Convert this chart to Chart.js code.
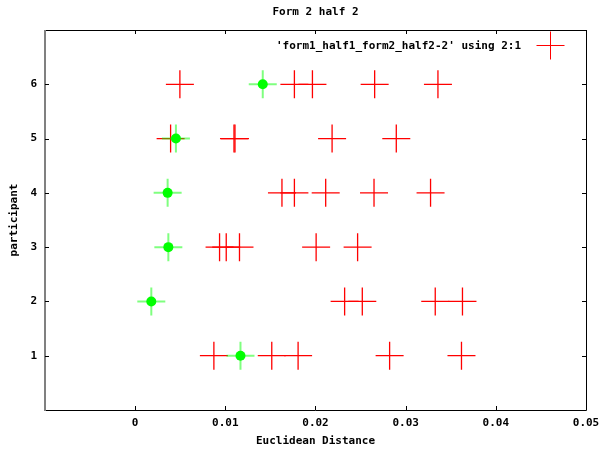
<!DOCTYPE html>
<html><head><meta charset="utf-8">
<script src="https://cdn.jsdelivr.net/npm/chart.js@4.4.0/dist/chart.umd.min.js"></script>
<style>html,body{margin:0;padding:0;background:#fff}#wrap{width:602px;height:450px;position:relative}</style>
</head><body><div id="wrap"><canvas id="c" width="602" height="450"></canvas></div>
<script>
const chartTitle = "Form 2 half 2";
const xTitle = "Euclidean Distance";
const yTitle = "participant";
const seriesLabel = "'form1_half1_form2_half2-2' using 2:1";
const xTickValues = [0, 0.01, 0.02, 0.03, 0.04, 0.05];
const yTickValues = [1, 2, 3, 4, 5, 6];

// red series: participant (y) and distance (x)
const redParticipant = [
  6, 6, 6, 6, 6,
  5, 5, 5, 5, 5,
  4, 4, 4, 4, 4,
  3, 3, 3, 3, 3,
  2, 2, 2, 2,
  1, 1, 1, 1, 1
];
const redDistance = [
  0.00496, 0.01766, 0.01966, 0.02656, 0.03358,
  0.00393, 0.01096, 0.01107, 0.02184, 0.02896,
  0.01628, 0.01766, 0.02113, 0.02649, 0.03276,
  0.00936, 0.01010, 0.01157, 0.02007, 0.02467,
  0.02323, 0.02519, 0.03328, 0.03630,
  0.00873, 0.01515, 0.01807, 0.02822, 0.03619
];
// green series
const greenParticipant = [6, 5, 4, 3, 2, 1];
const greenDistance = [0.01415, 0.00452, 0.00360, 0.00368, 0.00179, 0.01168];

const FONT = "bold 11px 'DejaVu Sans Mono', monospace";
const redPts = redDistance.map((d, i) => ({x: d, y: redParticipant[i]}));
const greenPts = greenDistance.map((d, i) => ({x: d, y: greenParticipant[i]}));

const framePlugin = {
  id: 'frame',
  afterDraw(chart) {
    const ctx = chart.ctx, a = chart.chartArea;
    const xs = chart.scales.x, ys = chart.scales.y;
    ctx.save();
    // border
    ctx.lineWidth = 1;
    ctx.strokeStyle = '#000';
    ctx.beginPath();
    ctx.moveTo(a.left, a.top + 0.5); ctx.lineTo(a.right + 0.5, a.top + 0.5);
    ctx.lineTo(a.right + 0.5, a.bottom + 0.5); ctx.lineTo(a.left, a.bottom + 0.5);
    ctx.stroke();
    ctx.strokeStyle = '#808080';
    ctx.lineWidth = 2;
    ctx.beginPath();
    ctx.moveTo(a.left, a.top); ctx.lineTo(a.left, a.bottom + 1);
    ctx.stroke();
    // inward ticks
    ctx.strokeStyle = '#000';
    ctx.lineWidth = 1;
    ctx.beginPath();
    xTickValues.forEach(v => {
      const px = Math.round(xs.getPixelForValue(v)) + 0.5;
      ctx.moveTo(px, a.bottom); ctx.lineTo(px, a.bottom - 4);
      ctx.moveTo(px, a.top); ctx.lineTo(px, a.top + 4);
    });
    yTickValues.forEach(v => {
      const py = Math.round(ys.getPixelForValue(v)) + 0.5;
      ctx.moveTo(a.left, py); ctx.lineTo(a.left + 4, py);
      ctx.moveTo(a.right, py); ctx.lineTo(a.right - 4, py);
    });
    ctx.stroke();
    // titles
    ctx.fillStyle = '#000';
    ctx.font = FONT;
    ctx.textAlign = 'center';
    ctx.textBaseline = 'middle';
    const cx = (a.left + a.right) / 2;
    ctx.fillText(chartTitle, cx, 12);
    ctx.fillText(xTitle, cx, 441);
    ctx.save();
    ctx.translate(14, (a.top + a.bottom) / 2);
    ctx.rotate(-Math.PI / 2);
    ctx.fillText(yTitle, 0, 0);
    ctx.restore();
    // legend
    ctx.textAlign = 'right';
    ctx.fillText(seriesLabel, 521, 46);
    ctx.strokeStyle = '#ff0000';
    ctx.lineWidth = 1;
    Chart.helpers.drawPoint(ctx, {pointStyle: 'cross', radius: 14, borderWidth: 1, rotation: 0}, 550.5, 45.5);
    ctx.restore();
  }
};

new Chart(document.getElementById('c'), {
  type: 'scatter',
  data: {
    datasets: [
      {
        label: seriesLabel,
        data: redPts,
        pointStyle: 'cross',
        pointRadius: 14,
        pointBorderWidth: 1.3,
        borderColor: '#ff0000',
        backgroundColor: '#ff0000',
        order: 3
      },
      {
        label: 'green-cross',
        data: greenPts,
        pointStyle: 'cross',
        pointRadius: 14,
        pointBorderWidth: 2,
        borderColor: 'rgba(0,255,0,0.5)',
        backgroundColor: 'rgba(0,255,0,0.5)',
        order: 2
      },
      {
        label: 'green-dot',
        data: greenPts,
        pointStyle: 'circle',
        pointRadius: 5,
        pointBorderWidth: 0,
        borderColor: '#00ff00',
        backgroundColor: '#00ff00',
        order: 1
      }
    ]
  },
  options: {
    responsive: false,
    animation: false,
    devicePixelRatio: 1,
    events: [],
    layout: {padding: {top: 30, right: 10, left: 0, bottom: 0}},
    plugins: {legend: {display: false}, title: {display: false}, tooltip: {enabled: false}},
    scales: {
      x: {
        type: 'linear', min: -0.01, max: 0.05,
        afterBuildTicks: s => { s.ticks = xTickValues.map(v => ({value: v})); },
        afterFit: s => { s.height = 40; s.paddingRight = 0; },
        grid: {display: false, drawTicks: false},
        border: {display: false},
        ticks: {
          padding: 7, color: '#000', maxRotation: 0, autoSkip: false,
          font: {family: "'DejaVu Sans Mono', monospace", size: 11, weight: 'bold'},
          callback: v => String(v)
        }
      },
      y: {
        type: 'linear', min: 0, max: 7,
        afterBuildTicks: s => { s.ticks = yTickValues.map(v => ({value: v})); },
        afterFit: s => { s.width = 45; },
        grid: {display: false, drawTicks: false},
        border: {display: false},
        ticks: {
          padding: 8, color: '#000', autoSkip: false,
          font: {family: "'DejaVu Sans Mono', monospace", size: 11, weight: 'bold'},
          callback: v => String(v)
        }
      }
    }
  },
  plugins: [framePlugin]
});
</script>
</body></html>
